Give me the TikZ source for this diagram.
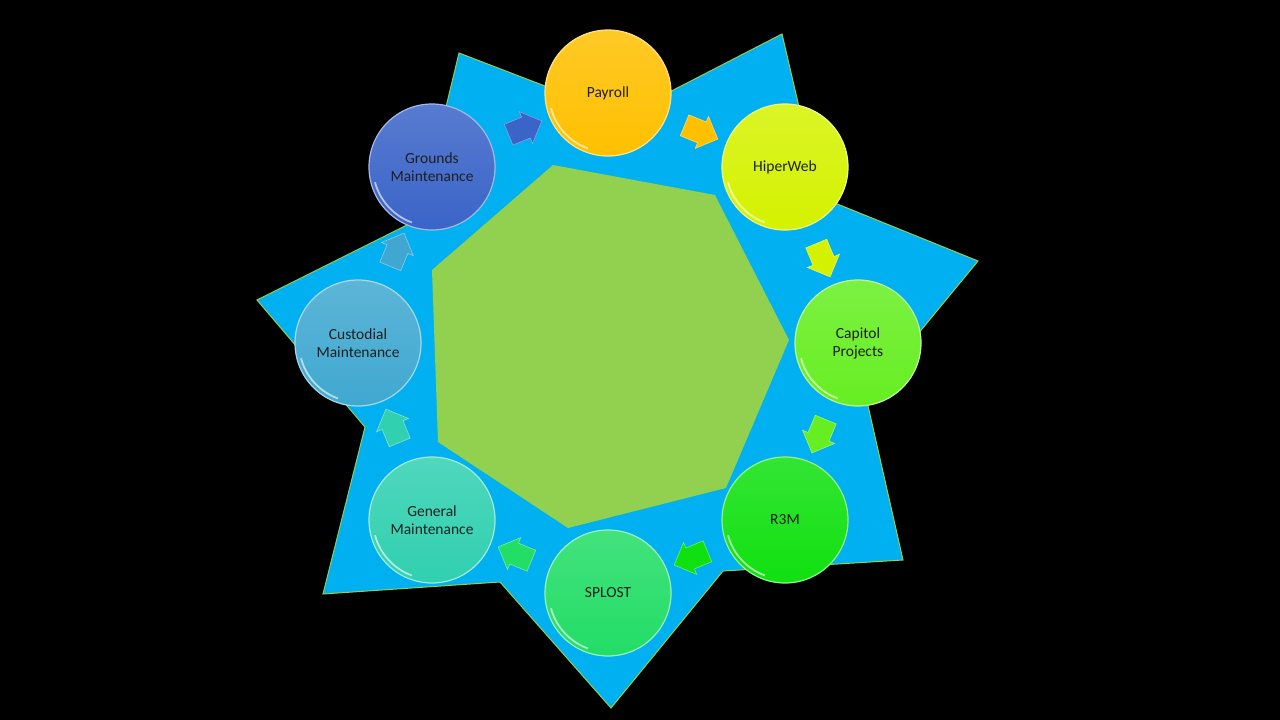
\documentclass[tikz,border=0pt]{standalone}
\usepackage{fontspec}
\setmainfont{Carlito}
\definecolor{starblue}{HTML}{00B0F0}
\definecolor{hexgreen}{HTML}{92D050}
\definecolor{payc}{HTML}{FFC000}
\definecolor{hiperc}{HTML}{D4F200}
\definecolor{capc}{HTML}{66EE22}
\definecolor{rthreec}{HTML}{10E010}
\definecolor{splostc}{HTML}{22DD66}
\definecolor{genc}{HTML}{30D0B0}
\definecolor{custc}{HTML}{40A8D0}
\definecolor{groundc}{HTML}{3A64C8}
\usepackage{tikz}
\usetikzlibrary{shapes.arrows,shapes.geometric}
\tikzset{
  ball/.style={circle,minimum size=126pt,inner sep=0pt,align=center,
    font=\fontsize{15.5}{18}\selectfont,text=black!88,
    top color=#1!85!white,bottom color=#1,draw=#1!45!white,line width=1.2pt,
    path picture={\draw[white,opacity=.6,line width=1.8pt]
      (path picture bounding box.center) ++(195:59pt) arc (195:250:59pt);}},
  flow_arrow/.style={single arrow,minimum height=36pt,
    single arrow head extend=6pt,inner xsep=0pt,inner ysep=11pt,
    fill=#1,draw=#1!60!white,line width=.6pt},
  star_back/.style={fill=starblue,draw=hexgreen,line width=1pt},
}

\begin{document}
\begin{tikzpicture}[x=1pt,y=-1pt]

  \fill[black] (0,0) rectangle (1280,720);

  % star and centre
  \draw[star_back] (459,53) -- (623,116) -- (782,34) -- (820,197) -- (978,261) -- (866,397)
    -- (903,560) -- (723,571) -- (611,708) -- (500,582) -- (323,594) -- (365,427)
    -- (257,300) -- (419,219) -- cycle;
  \fill[hexgreen] (553,165) -- (715,195) -- (789,340) -- (726,488) -- (568,528)
    -- (438,442) -- (432,270) -- cycle;

  \node[flow_arrow=payc,rotate=-22.5] (a1) at (696,130) {};
  \node[flow_arrow=hiperc,rotate=-67.5] (a2) at (821,255) {};
  \node[flow_arrow=capc,rotate=-112.5] (a3) at (821,431) {};
  \node[flow_arrow=rthreec,rotate=-157.5] (a4) at (696,556) {};
  \node[flow_arrow=splostc,rotate=157.5] (a5) at (520,556) {};
  \node[flow_arrow=genc,rotate=112.5] (a6) at (395,431) {};
  \node[flow_arrow=custc,rotate=67.5] (a7) at (395,255) {};
  \node[flow_arrow=groundc,rotate=22.5] (a8) at (520,130) {};

  \node[ball=payc] (payroll) at (608,93) {Payroll};
  \node[ball=hiperc] (hiperweb) at (785,167) {HiperWeb};
  \node[ball=capc] (capitol) at (858,343) {Capitol\\Projects};
  \node[ball=rthreec] (rthreem) at (785,520) {R3M};
  \node[ball=splostc] (splost) at (608,593) {SPLOST};
  \node[ball=genc] (general) at (432,520) {General\\Maintenance};
  \node[ball=custc] (custodial) at (358,343) {Custodial\\Maintenance};
  \node[ball=groundc] (grounds) at (432,167) {Grounds\\Maintenance};
\end{tikzpicture}
\end{document}
